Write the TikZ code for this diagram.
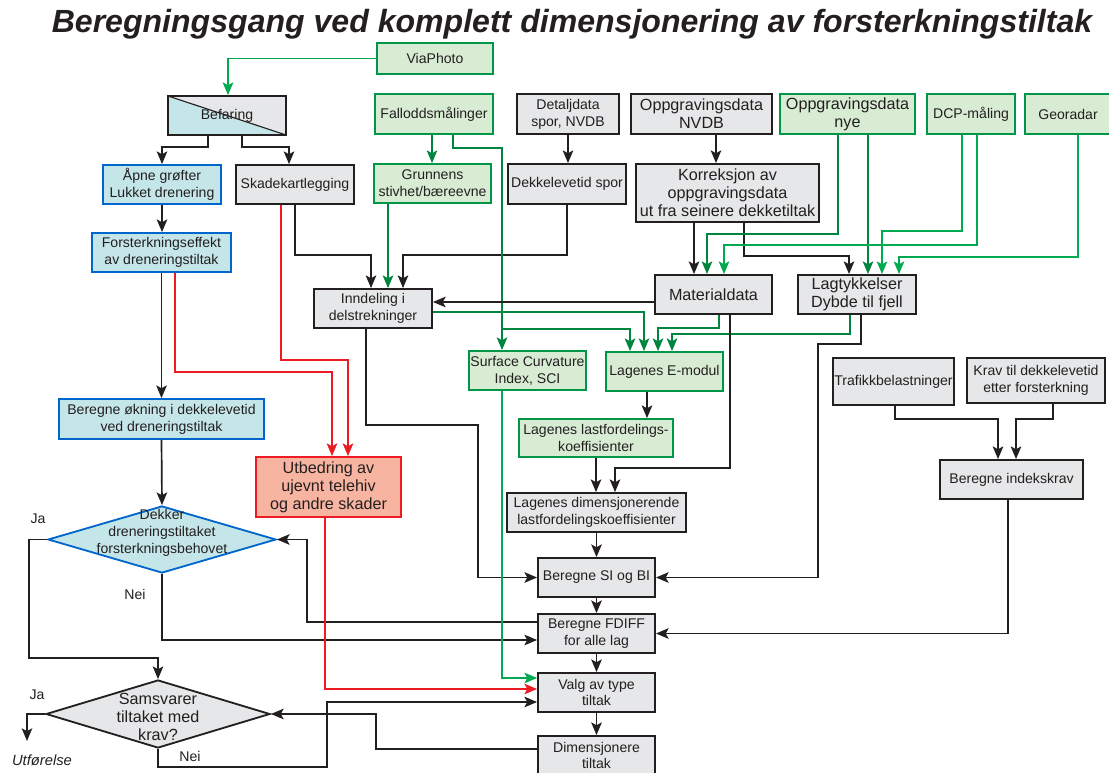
\documentclass[tikz,border=0pt]{standalone}
\usepackage{fontspec}
\setmainfont{Liberation Sans}
\usetikzlibrary{arrows.meta, shapes.geometric}

\definecolor{inkline}{RGB}{35,31,32}
\definecolor{boxgray}{RGB}{230,231,232}
\definecolor{leaffill}{RGB}{216,236,212}
\definecolor{leafedge}{RGB}{0,150,72}
\definecolor{darkgreen}{RGB}{0,133,62}
\definecolor{brightgreen}{RGB}{0,170,80}
\definecolor{icefill}{RGB}{197,230,233}
\definecolor{iceedge}{RGB}{0,102,204}
\definecolor{alarmred}{RGB}{237,28,36}
\definecolor{salmonfill}{RGB}{247,180,160}

\begin{document}
\begin{tikzpicture}[x=0.025cm, y=-0.025cm, >={Stealth[length=9pt,width=7.5pt,inset=2pt]}, font=\fontsize{10}{12}\selectfont]
        \tikzset{box/.style={rectangle, draw=inkline, fill=boxgray, line width=1.3pt, align=center, inner sep=1pt, text=inkline},
                 greenbox/.style={box, draw=leafedge, fill=leaffill},
                 bluebox/.style={box, draw=iceedge, fill=icefill},
                 redbox/.style={box, draw=alarmred, fill=salmonfill},
                 splitbox/.style={box, path picture={
                     \fill[icefill] (path picture bounding box.north west) -- (path picture bounding box.south east) -- (path picture bounding box.south west) -- cycle;
                     \draw[line width=0.8pt, inkline] (path picture bounding box.north west) -- (path picture bounding box.south east);}},
                 bigtext/.style={font=\fontsize{11.5}{12.8}\selectfont},
                 dia/.style={diamond, draw=inkline, fill=boxgray, line width=1.3pt, inner sep=0pt},
                 flow/.style={->, line width=1.2pt, draw=inkline},
                 gflow/.style={flow, draw=darkgreen},
                 bgflow/.style={flow, draw=brightgreen},
                 rflow/.style={flow, draw=alarmred}}

        \useasboundingbox (0,0) rectangle (1109,773);

        \node[font=\fontsize{22.8}{27}\selectfont\bfseries\itshape, text=inkline] (title) at (572,24) {Beregningsgang ved komplett dimensjonering av forsterkningstiltak};

        % left column
        \node[greenbox, minimum width=2.9cm, minimum height=0.775cm] (via) at (435,58.5) {ViaPhoto};
        \node[splitbox, minimum width=2.95cm, minimum height=0.975cm] (bef) at (227,115.5) {Befaring};
        \node[bluebox, minimum width=2.95cm, minimum height=0.975cm] (apne) at (162,184.5) {Åpne grøfter\\Lukket drenering};
        \node[box, minimum width=2.95cm, minimum height=0.975cm] (skade) at (295,184.5) {Skadekartlegging};
        \node[bluebox, minimum width=3.475cm, minimum height=0.975cm] (fors) at (161.5,252.5) {Forsterkningseffekt\\av dreneringstiltak};
        \node[bluebox, minimum width=5.125cm, minimum height=1cm] (okning) at (161.5,419) {Beregne økning i dekkelevetid\\ved dreneringstiltak};
        \node[redbox, bigtext, minimum width=3.625cm, minimum height=1.5cm] (utbed) at (328.5,487) {Utbedring av\\ujevnt telehiv\\og andre skader};
        \node[dia, fill=icefill, draw=iceedge, minimum width=5.7cm, minimum height=1.675cm] (dekker) at (162,539.5) {};
        \node[text=inkline, align=center] at (162,533) {Dekker\\dreneringstiltaket\\forsterkningsbehovet};
        \node[dia, minimum width=5.6cm, minimum height=1.7cm] (sams) at (158,714) {};
        \node[bigtext, text=inkline, align=center] at (158,717) {Samsvarer\\tiltaket med\\krav?};

        % data sources
        \node[greenbox, minimum width=2.95cm, minimum height=1cm] (fall) at (434,114) {Falloddsmålinger};
        \node[greenbox, minimum width=2.925cm, minimum height=0.975cm] (grunn) at (432.5,183.5) {Grunnens\\stivhet/bæreevne};
        \node[box, minimum width=2.55cm, minimum height=1cm] (detalj) at (568,114) {Detaljdata\\spor, NVDB};
        \node[box, minimum width=2.95cm, minimum height=1cm] (dlspor) at (567,184) {Dekkelevetid spor};
        \node[box, bigtext, minimum width=3.525cm, minimum height=1cm] (oppnvdb) at (701.5,114) {Oppgravingsdata\\NVDB};
        \node[box, bigtext, minimum width=4.575cm, minimum height=1.45cm] (korr) at (727.5,193) {Korreksjon av\\oppgravingsdata\\ut fra seinere dekketiltak};
        \node[greenbox, bigtext, minimum width=3.375cm, minimum height=1cm] (oppnye) at (847.5,114) {Oppgravingsdata\\nye};
        \node[greenbox, minimum width=2.2cm, minimum height=1cm] (dcp) at (971,114) {DCP-måling};
        \node[greenbox, minimum width=2.15cm, minimum height=1cm] (geo) at (1068,114) {Georadar};

        % middle
        \node[box, minimum width=2.95cm, minimum height=0.975cm] (innd) at (373,308.5) {Inndeling i\\delstrekninger};
        \node[box, bigtext, minimum width=2.925cm, minimum height=0.975cm] (mat) at (713.5,294.5) {Materialdata};
        \node[box, bigtext, minimum width=2.95cm, minimum height=0.975cm] (lagt) at (857,294.5) {Lagtykkelser\\Dybde til fjell};
        \node[greenbox, minimum width=2.925cm, minimum height=0.975cm] (sci) at (527.5,370.5) {Surface Curvature\\Index, SCI};
        \node[greenbox, minimum width=2.925cm, minimum height=0.975cm] (emod) at (664.5,371.5) {Lagenes E-modul};
        \node[greenbox, minimum width=3.85cm, minimum height=0.95cm] (lastf) at (596,438) {Lagenes lastfordelings-\\koeffisienter};
        \node[box, minimum width=4.475cm, minimum height=0.975cm] (dimk) at (596.5,512.5) {Lagenes dimensjonerende\\lastfordelingskoeffisienter};
        \node[box, minimum width=2.925cm, minimum height=0.975cm] (sibi) at (596.5,577.5) {Beregne SI og BI};
        \node[box, minimum width=2.925cm, minimum height=0.975cm] (fdiff) at (596.5,633.5) {Beregne FDIFF\\for alle lag};
        \node[box, minimum width=2.925cm, minimum height=0.975cm] (valg) at (596.5,692.5) {Valg av type\\tiltak};
        \node[box, minimum width=2.925cm, minimum height=0.975cm] (dimt) at (596.5,755.5) {Dimensjonere\\tiltak};

        % right
        \node[box, minimum width=3.025cm, minimum height=1.175cm] (traf) at (893.5,381.5) {Trafikkbelastninger};
        \node[box, minimum width=3.45cm, minimum height=1.125cm] (krav) at (1036,380.5) {Krav til dekkelevetid\\etter forsterkning};
        \node[box, minimum width=3.575cm, minimum height=0.975cm] (indeks) at (1011.5,479.5) {Beregne indekskrav};

        % labels
        \node[text=inkline] (ja1) at (38,519) {Ja};
        \node[text=inkline] (nei1) at (135,594) {Nei};
        \node[text=inkline] (ja2) at (37,695) {Ja};
        \node[text=inkline] (nei2) at (190,756) {Nei};
        \coordinate (utf) at (27,741);
        \node[text=inkline, font=\fontsize{10.5}{12}\selectfont\itshape] (utfl) at (42,760) {Utførelse};

        % left connectors
        \draw[bgflow] (via.west) -| (228,0 |- bef.north);
        \draw[flow] (208,0 |- bef.south) |- (162,147) -- (162,0 |- apne.north);
        \draw[flow] (242,0 |- bef.south) |- (289,147) -- (289,0 |- skade.north);
        \draw[flow] (apne.south) -- (apne.south |- fors.north);
        \draw[flow] (fors.south) -- (fors.south |- okning.north);
        \draw[rflow] (175,0 |- fors.south) |- (332,372) -- (332,0 |- utbed.north);
        \draw[rflow] (281,0 |- skade.south) |- (348,360) -- (348,0 |- utbed.north);
        \draw[flow] (okning.south) -- (dekker.north);
        \draw[flow] (dekker.south) |- (fdiff.west |- 0,640);
        \draw[flow] (fdiff.west |- 0,622) -| (307,0 |- dekker.east) -- (dekker.east);
        \draw[flow] (dekker.west) -| (29,658) -| (sams.north);
        \draw[rflow] (325,0 |- utbed.south) |- (valg.west |- 0,689);
        \draw[flow] (sams.south) |- (327,767) |- (valg.west |- 0,702);
        \draw[flow] (dimt.west |- 0,749) -| (376,0 |- sams.east) -- (sams.east);
        \draw[flow] (sams.west) -| (utf);

        % into Inndeling
        \draw[flow] (295,0 |- skade.south) |- (371,255) -- (371,0 |- innd.north);
        \draw[gflow] (388,0 |- grunn.south) -- (388,0 |- innd.north);
        \draw[flow] (567,0 |- dlspor.south) |- (403,255) -- (403,0 |- innd.north);
        \draw[gflow] (432,0 |- fall.south) -- (432,0 |- grunn.north);
        \draw[flow] (detalj.south) -- (detalj.south |- dlspor.north);
        \draw[flow] (716,0 |- oppnvdb.south) -- (716,0 |- korr.north);

        % into E-modul and SCI
        \draw[gflow] (453,0 |- fall.south) |- (502,148) -- (502,0 |- sci.north);
        \draw[gflow] (502,329) -| (630,0 |- emod.north);
        \draw[gflow] (innd.east |- 0,312) -| (644,0 |- emod.north);
        \draw[flow] (mat.west |- 0,302) -- (innd.east |- 0,302);
        \draw[gflow] (719,0 |- mat.south) |- (658,328) -- (658,0 |- emod.north);
        \draw[gflow] (850,0 |- lagt.south) |- (672,334) -- (672,0 |- emod.north);
        \draw[flow] (647,0 |- emod.south) -- (647,0 |- lastf.north);
        \draw[flow] (730,0 |- mat.south) |- (615,468) -- (615,0 |- dimk.north);
        \draw[flow] (lastf.south) -- (lastf.south |- dimk.north);
        \draw[flow] (dimk.south) -- (sibi.north);
        \draw[flow] (366,0 |- innd.south) |- (478,425) |- (sibi.west);
        \draw[flow] (861,0 |- lagt.south) |- (818,344) |- (sibi.east);
        \draw[flow] (sibi.south) -- (fdiff.north);
        \draw[flow] (fdiff.south) -- (valg.north);
        \draw[flow] (valg.south) -- (dimt.north);
        \draw[bgflow] (502,0 |- sci.south) |- (valg.west |- 0,678);

        % into Materialdata and Lagtykkelser
        \draw[flow] (694,0 |- korr.south) -- (694,0 |- mat.north);
        \draw[flow] (744,0 |- korr.south) |- (849,256) -- (849,0 |- lagt.north);
        \draw[gflow] (838,0 |- oppnye.south) |- (707,234) -- (707,0 |- mat.north);
        \draw[gflow] (868,0 |- oppnye.south) -- (868,0 |- lagt.north);
        \draw[bgflow] (962,0 |- dcp.south) |- (882,231) -- (882,0 |- lagt.north);
        \draw[bgflow] (977,0 |- dcp.south) |- (724,245) -- (724,0 |- mat.north);
        \draw[bgflow] (1078,0 |- geo.south) |- (899,257) -- (899,0 |- lagt.north);

        % right connectors
        \draw[flow] (895,0 |- traf.south) |- (998,419) -- (998,0 |- indeks.north);
        \draw[flow] (1053,0 |- krav.south) |- (1016,419) -- (1016,0 |- indeks.north);
        \draw[flow] (1008,0 |- indeks.south) |- (fdiff.east);
    \end{tikzpicture}
\end{document}
